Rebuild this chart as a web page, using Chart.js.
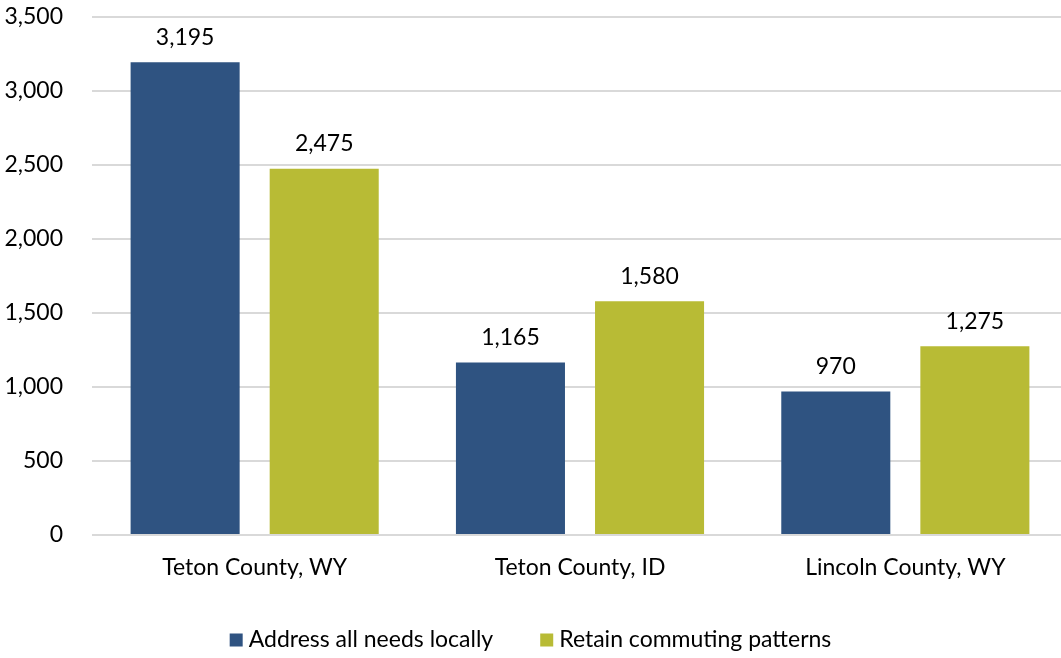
<!DOCTYPE html>
<html>
<head>
<meta charset="utf-8">
<script src="https://cdn.jsdelivr.net/npm/chart.js@4/dist/chart.umd.min.js"></script>
<style>
  html, body { margin: 0; padding: 0; background: #fff; overflow: hidden; }
  #wrap { width: 1061px; height: 658px; overflow: hidden; }
</style>
</head>
<body>
<div id="wrap"><canvas id="housingChart" width="1068" height="658"></canvas></div>
<script>
const counties = ['Teton County, WY', 'Teton County, ID', 'Lincoln County, WY'];
const localNeeds = [3195, 1165, 970];
const commuting = [2475, 1580, 1275];
const yTicks = [0, 500, 1000, 1500, 2000, 2500, 3000, 3500];

const FONT = 'Lato, "Open Sans", sans-serif';
const FONT_SIZE = 23;
const VIEW_W = 1061;
const fmt = v => v.toLocaleString('en-US');

// value labels above each bar
const barLabels = {
  id: 'barLabels',
  afterDatasetsDraw(chart) {
    const ctx = chart.ctx;
    ctx.save();
    ctx.font = FONT_SIZE + 'px ' + FONT;
    ctx.fillStyle = '#000';
    ctx.textAlign = 'center';
    ctx.textBaseline = 'middle';
    chart.data.datasets.forEach((ds, i) => {
      chart.getDatasetMeta(i).data.forEach((bar, j) => {
        ctx.fillText(fmt(ds.data[j]), bar.x, bar.y - 25);
      });
    });
    ctx.restore();
  }
};

// legend row along the bottom, square swatches, centred in the visible width
const bottomLegend = {
  id: 'bottomLegend',
  afterDraw(chart) {
    const ctx = chart.ctx;
    const box = 13, gap = 6, spacing = 47, y = 640;
    ctx.save();
    ctx.font = FONT_SIZE + 'px ' + FONT;
    ctx.textBaseline = 'middle';
    const items = chart.data.datasets.map(ds => ({
      text: ds.label, color: ds.backgroundColor, w: box + gap + ctx.measureText(ds.label).width
    }));
    const total = items.reduce((s, it) => s + it.w, 0) + spacing * (items.length - 1);
    let x = (VIEW_W - total) / 2;
    items.forEach(it => {
      ctx.fillStyle = it.color;
      ctx.fillRect(x, y - box / 2, box, box);
      ctx.fillStyle = '#000';
      ctx.fillText(it.text, x + box + gap, y);
      x += it.w + spacing;
    });
    ctx.restore();
  }
};

new Chart(document.getElementById('housingChart').getContext('2d'), {
  type: 'bar',
  data: {
    labels: counties,
    datasets: [
      { label: 'Address all needs locally', data: localNeeds, backgroundColor: '#2F5381' },
      { label: 'Retain commuting patterns', data: commuting, backgroundColor: '#B8BB35' }
    ]
  },
  options: {
    responsive: false,
    animation: false,
    devicePixelRatio: 1,
    categoryPercentage: 0.855,
    barPercentage: 0.784,
    layout: { padding: { top: 17, right: 0, left: 0, bottom: 0 } },
    plugins: {
      legend: { display: false },
      tooltip: { enabled: false }
    },
    scales: {
      y: {
        min: 0,
        max: 3500,
        afterBuildTicks: s => { s.ticks = yTicks.map(v => ({ value: v })); },
        afterFit: s => { s.width = 92; s.paddingTop = 0; s.paddingBottom = 0; },
        border: { display: false },
        grid: { color: '#D9D9D9', lineWidth: 2, drawTicks: false },
        ticks: {
          padding: 29,
          color: '#000',
          font: { family: FONT, size: FONT_SIZE },
          callback: v => fmt(v)
        }
      },
      x: {
        afterFit: s => { s.height = 123; },
        border: { display: false },
        grid: { display: false, drawTicks: false },
        ticks: {
          padding: 19,
          color: '#000',
          font: { family: FONT, size: FONT_SIZE }
        }
      }
    }
  },
  plugins: [barLabels, bottomLegend]
});
</script>
</body>
</html>
